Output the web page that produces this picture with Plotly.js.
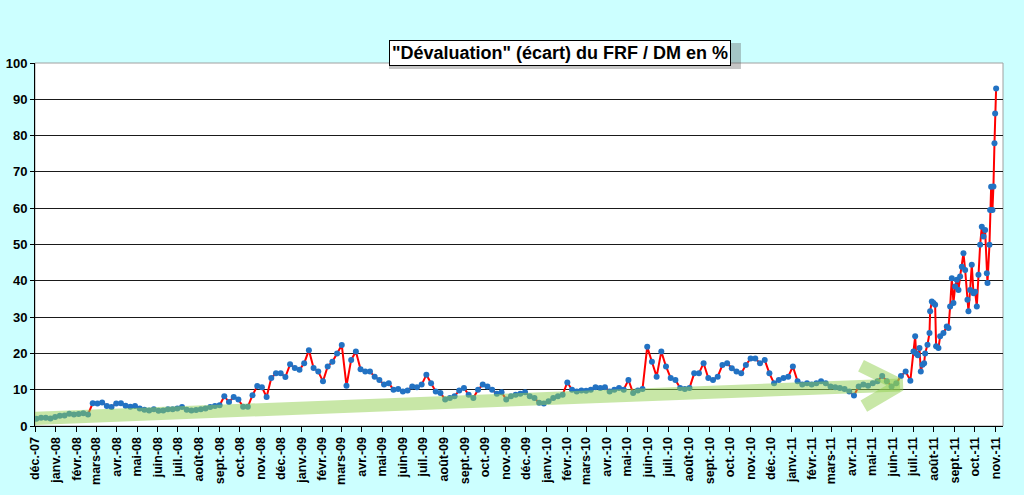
<!DOCTYPE html>
<html>
<head>
<meta charset="utf-8">
<script src="https://cdn.plot.ly/plotly-3.0.1.min.js"></script>
<style>
  html, body { margin: 0; padding: 0; background: #CCFFFF; }
  #graph { width: 1024px; height: 495px; }
</style>
</head>
<body>
<div id="graph"></div>
<script>
// ecart FRF / DM en %, une valeur par semaine a partir du lundi 3 dec. 2007
var ecartHebdo = [
  2.0, 2.3, 2.3, 2.1, 2.5, 2.8, 2.9, 3.4, 3.2, 3.3, 3.5, 3.2,
  6.3, 6.2, 6.5, 5.5, 5.2, 6.2, 6.3, 5.6, 5.3, 5.5, 4.8, 4.5,
  4.3, 4.6, 4.2, 4.3, 4.6, 4.6, 4.8, 5.2, 4.5, 4.3, 4.4, 4.6,
  4.8, 5.2, 5.5, 5.7, 8.2, 6.6, 8.0, 7.3, 5.3, 5.3, 8.5, 11.0,
  10.7, 8.0, 13.2, 14.5,
  14.5, 13.5, 17.0, 16.0, 15.5, 17.3, 20.9, 16.0, 15.0, 12.3, 16.4, 17.7,
  20.0, 22.3, 11.1, 18.2, 20.5, 15.6, 15.0, 15.0, 13.6, 12.7, 11.4, 11.8,
  10.0, 10.2, 9.5, 9.8, 10.9, 10.7, 11.4, 14.1, 11.8, 9.5, 9.1, 7.3,
  7.7, 8.2, 9.8, 10.5, 8.6, 7.7, 10.0, 11.4, 10.9, 10.0, 8.9, 9.3,
  7.3, 8.2, 8.6,
  8.9, 9.3, 8.2, 7.7, 6.4, 6.2, 6.8, 7.7, 8.2, 8.6, 12.0, 10.0,
  9.5, 9.8, 9.7, 10.0, 10.7, 10.5, 10.7, 9.5, 10.0, 10.5, 10.0, 12.7,
  9.1, 9.8, 10.2, 21.8, 17.7, 13.6, 20.5, 16.4, 13.2, 12.7, 10.5, 10.2,
  10.5, 14.5, 14.5, 17.3, 13.2, 12.7, 13.6, 16.8, 17.3, 15.9, 15.0, 14.5,
  16.8, 18.6, 18.6,
  17.3, 18.2, 14.5, 11.8, 12.7, 13.2, 13.6, 16.4, 12.3, 11.4, 11.8, 11.4,
  11.8, 12.3, 11.8, 10.9, 10.7, 10.5, 10.2, 9.5, 8.4, 10.9, 11.4, 11.1,
  11.8, 12.3, 13.8, 12.3, 10.9, 11.8, 13.8, 15.0, 12.5
];

// fin de periode (juil. - nov. 2011), lue plus finement : numero de semaine / valeur
var finSemaines = [
  186.66, 187.02, 187.23, 187.58, 187.94, 188.22, 188.58, 188.93, 189.14, 189.64,
  190.07, 190.21, 190.56, 190.92, 191.27, 191.48, 191.98, 192.34, 193.04, 193.75,
  194.11, 194.46, 194.82, 195.17, 195.53, 195.88, 196.24, 196.59, 196.95, 197.30,
  197.66, 198.15, 198.36, 198.72, 199.07, 199.43, 199.78, 200.14, 200.49, 200.85,
  201.20, 201.56, 201.91, 202.27, 202.41, 202.83, 202.97, 203.19, 203.47, 203.68,
  203.90, 204.04, 204.25
];
var finEcart = [
  20.5, 24.7, 20.0, 19.5, 21.5, 15.0, 16.9, 17.3, 20.0, 22.4,
  25.6, 31.6, 34.3, 33.9, 33.4, 22.0, 21.5, 24.7, 25.6, 27.4,
  27.0, 32.9, 40.7, 33.9, 38.4, 40.3, 37.5, 41.2, 43.9, 47.6,
  43.0, 34.8, 31.6, 37.5, 44.4, 36.6, 37.0, 32.9, 41.7, 49.9,
  54.9, 52.2, 54.0, 42.1, 39.4, 49.9, 59.5, 65.9, 59.5, 66.0,
  77.9, 86.1, 93.0
];

var moisLabels = [
  'déc.-07',
  'janv.-08', 'févr.-08', 'mars-08', 'avr.-08', 'mai-08', 'juin-08',
  'juil.-08', 'août-08', 'sept.-08', 'oct.-08', 'nov.-08', 'déc.-08',
  'janv.-09', 'févr.-09', 'mars-09', 'avr.-09', 'mai-09', 'juin-09',
  'juil.-09', 'août-09', 'sept.-09', 'oct.-09', 'nov.-09', 'déc.-09',
  'janv.-10', 'févr.-10', 'mars-10', 'avr.-10', 'mai-10', 'juin-10',
  'juil.-10', 'août-10', 'sept.-10', 'oct.-10', 'nov.-10', 'déc.-10',
  'janv.-11', 'févr.-11', 'mars-11', 'avr.-11', 'mai-11', 'juin-11',
  'juil.-11', 'août-11', 'sept.-11', 'oct.-11', 'nov.-11'
];

// fleche de tendance : [semaine, valeur]
var flecheTige = [[-0.3, 2.1], [183.8, 11.3]];
var flecheTete = [[175.5, 16.6], [183.8, 11.3], [176.1, 5.5]];

function dateSemaine(w) {
    var d = new Date(Date.UTC(2007, 11, 3) + w * 7 * 86400000);
    return d.toISOString().slice(0, 19).replace('T', ' ');
}

function debutMois(i) {
    var d = new Date(Date.UTC(2007, 11 + i, 1));
    return d.toISOString().slice(0, 10);
}

var xs = ecartHebdo.map(function (v, i) { return dateSemaine(i); })
    .concat(finSemaines.map(dateSemaine));
var ys = ecartHebdo.concat(finEcart);

var serie = {
    x: xs,
    y: ys,
    type: 'scatter',
    mode: 'lines+markers',
    line: {color: '#FF0000', width: 2},
    marker: {color: '#2272C3', size: 6},
    hoverinfo: 'skip'
};

var fx = [], fy = [];
flecheTige.forEach(function (p) { fx.push(dateSemaine(p[0])); fy.push(p[1]); });
fx.push(null); fy.push(null);
flecheTete.forEach(function (p) { fx.push(dateSemaine(p[0])); fy.push(p[1]); });

var fleche = {
    x: fx,
    y: fy,
    type: 'scatter',
    mode: 'lines',
    connectgaps: false,
    line: {color: 'rgba(146,208,80,0.5)', width: 13},
    hoverinfo: 'skip'
};

var police = 'Arial, "Liberation Sans", sans-serif';

var layout = {
    width: 1024,
    height: 495,
    paper_bgcolor: '#CCFFFF',
    plot_bgcolor: '#FFFFFF',
    margin: {l: 35, r: 21, t: 63, b: 69},
    showlegend: false,
    hovermode: false,
    xaxis: {
        type: 'date',
        range: ['2007-12-01', '2011-11-12'],
        tickvals: moisLabels.map(function (m, i) { return debutMois(i); }),
        ticktext: moisLabels,
        tickangle: -90,
        tickfont: {family: police, size: 12.5, color: '#000', weight: 'bold'},
        ticks: 'outside',
        ticklen: 5,
        tickcolor: '#000',
        showgrid: false,
        zeroline: false,
        showline: true,
        linecolor: '#000',
        linewidth: 1
    },
    yaxis: {
        range: [0, 100],
        dtick: 10,
        tickfont: {family: police, size: 13, color: '#000', weight: 'bold'},
        ticks: 'outside',
        ticklen: 4,
        tickcolor: '#000',
        showgrid: true,
        gridcolor: '#1A1A1A',
        gridwidth: 1,
        zeroline: false,
        showline: true,
        linecolor: '#000',
        linewidth: 1
    },
    shapes: [
        {type: 'rect', xref: 'paper', yref: 'paper', x0: 0, x1: 1, y0: 0, y1: 1,
         line: {color: '#A0A0A0', width: 1}, layer: 'below'},
        {type: 'rect', xref: 'paper', yref: 'paper', x0: 0.3657, x1: 0.7293, y0: 0.9835, y1: 1.0551,
         fillcolor: 'rgba(90,90,90,0.35)', line: {width: 0}, layer: 'above'}
    ],
    annotations: [{
        text: '"Dévaluation" (écart) du FRF / DM en %',
        xref: 'paper', yref: 'paper',
        x: 0.5425, y: 1.0275,
        xanchor: 'center', yanchor: 'middle',
        showarrow: false,
        font: {family: police, size: 18, color: '#000', weight: 'bold'},
        bgcolor: '#FFFFFF',
        bordercolor: '#000',
        borderwidth: 1,
        borderpad: 2
    }]
};

Plotly.newPlot('graph', [serie, fleche], layout, {staticPlot: true, displayModeBar: false});
</script>
</body>
</html>
